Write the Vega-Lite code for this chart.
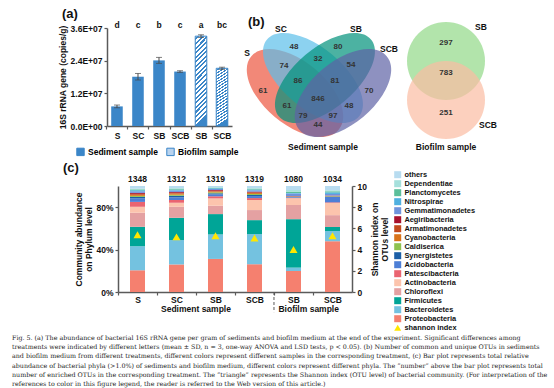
{
  "$schema": "https://vega.github.io/schema/vega-lite/v6.json",
  "background": "white",
  "padding": {"left": 12, "top": 8, "right": 0, "bottom": 0},
  "spacing": -3,
  "resolve": {"scale": {"color": "independent", "fill": "independent", "shape": "independent"}, "legend": {"color": "independent", "fill": "independent", "shape": "independent"}},
  "config": {
    "view": {"stroke": null},
    "font": "Liberation Sans",
    "axis": {"domainColor": "#5a5a5a", "domainWidth": 1.5, "tickColor": "#5a5a5a", "tickWidth": 1.2, "tickSize": 3, "labelFont": "Liberation Sans", "labelFontSize": 8.5, "labelFontWeight": "bold", "labelColor": "#111", "titleFont": "Liberation Sans", "titleFontSize": 8.5, "titleFontWeight": "bold", "titleColor": "#111", "grid": false, "labelPadding": 2},
    "title": {"font": "Liberation Sans", "fontSize": 13, "fontWeight": "bold", "color": "#111", "anchor": "start", "frame": "group"}
  },
  "vconcat": [
    {
      "spacing": 4,
      "resolve": {"scale": {"color": "independent", "fill": "independent", "shape": "independent"}, "legend": {"color": "independent", "fill": "independent", "shape": "independent"}},
      "vconcat": [
        {
          "spacing": 3,
          "resolve": {"scale": {"color": "independent", "fill": "independent", "shape": "independent"}, "legend": {"color": "independent", "fill": "independent", "shape": "independent"}},
          "hconcat": [
            {"width": 43, "height": 1, "data": {"values": []}, "mark": "point"},
            {
              "width": 125, "height": 98,
              "title": {"text": "(a)", "dx": -45, "offset": 0},
              "data": {"values": [
                {"id": "sed_S", "type": "Sediment sample", "mean": 7200000, "sd": 500000, "letter": "d"},
                {"id": "sed_SC", "type": "Sediment sample", "mean": 18100000, "sd": 1200000, "letter": "c"},
                {"id": "sed_SB", "type": "Sediment sample", "mean": 24100000, "sd": 1100000, "letter": "b"},
                {"id": "sed_SCB", "type": "Sediment sample", "mean": 20000000, "sd": 300000, "letter": "c"},
                {"id": "bio_SB", "type": "Biofilm sample", "mean": 33000000, "sd": 500000, "letter": "a"},
                {"id": "bio_SCB", "type": "Biofilm sample", "mean": 21200000, "sd": 400000, "letter": "bc"}
              ]},
              "encoding": {
                "x": {"field": "id", "type": "nominal", "sort": null,
                  "scale": {"domain": ["sed_S", "sed_SC", "sed_SB", "sed_SCB", "bio_SB", "bio_SCB"], "paddingInner": 0.45, "paddingOuter": 0.2},
                  "axis": {"title": null, "labelAngle": 0, "labelExpr": "split(datum.value, '_')[1]", "tickOffset": -10.5, "labelOffset": 10.5}},
                "y": {"field": "mean", "type": "quantitative", "scale": {"domain": [0, 36000000], "nice": false},
                  "axis": {"values": [0, 12000000, 24000000, 36000000], "labelExpr": "datum.value == 0 ? '0.0E+00' : format(datum.value / 1e7, '.1f') + 'E+07'", "title": "16S rRNA gene (copies/g)", "titlePadding": 3}}
              },
              "layer": [
                {"mark": {"type": "bar"},
                 "encoding": {"fill": {"field": "type", "type": "nominal",
                    "scale": {"domain": ["Sediment sample", "Biofilm sample"], "range": ["#3b86c8", "#b9d3ee"]},
                    "legend": {"orient": "none", "legendX": -31, "legendY": 119, "direction": "horizontal", "title": null, "symbolType": "square", "symbolSize": 55, "symbolStrokeColor": "#3b86c8", "symbolStrokeWidth": 1, "labelFontSize": 8.5, "labelFontWeight": "bold", "labelFont": "Liberation Sans", "columnPadding": 6, "labelOffset": 3, "labelLimit": 0}}}},
                {"transform": [{"filter": "datum.type == 'Biofilm sample'"}],
                 "mark": {"type": "bar", "stroke": "#3b86c8", "strokeWidth": 1,
                   "fill": {"gradient": "linear", "x1": 0, "y1": 0, "x2": 0.13, "y2": 1, "stops": [
                     {"offset": 0, "color": "#ffffff"}, {"offset": 0.0275, "color": "#ffffff"}, {"offset": 0.0275, "color": "#3b86c8"}, {"offset": 0.05, "color": "#3b86c8"},
                     {"offset": 0.05, "color": "#ffffff"}, {"offset": 0.0775, "color": "#ffffff"}, {"offset": 0.0775, "color": "#3b86c8"}, {"offset": 0.1, "color": "#3b86c8"},
                     {"offset": 0.1, "color": "#ffffff"}, {"offset": 0.1275, "color": "#ffffff"}, {"offset": 0.1275, "color": "#3b86c8"}, {"offset": 0.15, "color": "#3b86c8"},
                     {"offset": 0.15, "color": "#ffffff"}, {"offset": 0.1775, "color": "#ffffff"}, {"offset": 0.1775, "color": "#3b86c8"}, {"offset": 0.2, "color": "#3b86c8"},
                     {"offset": 0.2, "color": "#ffffff"}, {"offset": 0.2275, "color": "#ffffff"}, {"offset": 0.2275, "color": "#3b86c8"}, {"offset": 0.25, "color": "#3b86c8"},
                     {"offset": 0.25, "color": "#ffffff"}, {"offset": 0.2775, "color": "#ffffff"}, {"offset": 0.2775, "color": "#3b86c8"}, {"offset": 0.3, "color": "#3b86c8"},
                     {"offset": 0.3, "color": "#ffffff"}, {"offset": 0.3275, "color": "#ffffff"}, {"offset": 0.3275, "color": "#3b86c8"}, {"offset": 0.35, "color": "#3b86c8"},
                     {"offset": 0.35, "color": "#ffffff"}, {"offset": 0.3775, "color": "#ffffff"}, {"offset": 0.3775, "color": "#3b86c8"}, {"offset": 0.4, "color": "#3b86c8"},
                     {"offset": 0.4, "color": "#ffffff"}, {"offset": 0.4275, "color": "#ffffff"}, {"offset": 0.4275, "color": "#3b86c8"}, {"offset": 0.45, "color": "#3b86c8"},
                     {"offset": 0.45, "color": "#ffffff"}, {"offset": 0.4775, "color": "#ffffff"}, {"offset": 0.4775, "color": "#3b86c8"}, {"offset": 0.5, "color": "#3b86c8"},
                     {"offset": 0.5, "color": "#ffffff"}, {"offset": 0.5275, "color": "#ffffff"}, {"offset": 0.5275, "color": "#3b86c8"}, {"offset": 0.55, "color": "#3b86c8"},
                     {"offset": 0.55, "color": "#ffffff"}, {"offset": 0.5775, "color": "#ffffff"}, {"offset": 0.5775, "color": "#3b86c8"}, {"offset": 0.6, "color": "#3b86c8"},
                     {"offset": 0.6, "color": "#ffffff"}, {"offset": 0.6275, "color": "#ffffff"}, {"offset": 0.6275, "color": "#3b86c8"}, {"offset": 0.65, "color": "#3b86c8"},
                     {"offset": 0.65, "color": "#ffffff"}, {"offset": 0.6775, "color": "#ffffff"}, {"offset": 0.6775, "color": "#3b86c8"}, {"offset": 0.7, "color": "#3b86c8"},
                     {"offset": 0.7, "color": "#ffffff"}, {"offset": 0.7275, "color": "#ffffff"}, {"offset": 0.7275, "color": "#3b86c8"}, {"offset": 0.75, "color": "#3b86c8"},
                     {"offset": 0.75, "color": "#ffffff"}, {"offset": 0.7775, "color": "#ffffff"}, {"offset": 0.7775, "color": "#3b86c8"}, {"offset": 0.8, "color": "#3b86c8"},
                     {"offset": 0.8, "color": "#ffffff"}, {"offset": 0.8275, "color": "#ffffff"}, {"offset": 0.8275, "color": "#3b86c8"}, {"offset": 0.85, "color": "#3b86c8"},
                     {"offset": 0.85, "color": "#ffffff"}, {"offset": 0.8775, "color": "#ffffff"}, {"offset": 0.8775, "color": "#3b86c8"}, {"offset": 0.9, "color": "#3b86c8"},
                     {"offset": 0.9, "color": "#ffffff"}, {"offset": 0.9275, "color": "#ffffff"}, {"offset": 0.9275, "color": "#3b86c8"}, {"offset": 0.95, "color": "#3b86c8"},
                     {"offset": 0.95, "color": "#ffffff"}, {"offset": 0.9775, "color": "#ffffff"}, {"offset": 0.9775, "color": "#3b86c8"}, {"offset": 1, "color": "#3b86c8"}
                   ]}}},
                {"mark": {"type": "errorbar", "ticks": true, "size": 6, "thickness": 1, "color": "#4a4a4a"},
                 "encoding": {"yError": {"field": "sd"}}},
                {"mark": {"type": "text", "fontSize": 8.5, "fontWeight": "bold", "baseline": "middle", "color": "#111"},
                 "encoding": {"y": {"datum": 37000000, "type": "quantitative", "scale": {"domain": [0, 36000000], "nice": false}}, "text": {"field": "letter"}}}
              ]
            },
            {
              "width": 259, "height": 125,
              "title": {"text": "(b)", "dx": 6, "offset": -6.5},
              "encoding": {
                "x": {"field": "x", "type": "quantitative", "scale": {"domain": [0, 259], "nice": false, "zero": false}, "axis": null},
                "y": {"field": "y", "type": "quantitative", "scale": {"domain": [0, 125], "nice": false, "zero": false, "reverse": true}, "axis": null}
              },
              "layer": [
                {"data": {"values": [
                  {"set": "S", "x": 53, "y": 65}, {"set": "SC", "x": 71, "y": 50}, {"set": "SB", "x": 83, "y": 50}, {"set": "SCB", "x": 101, "y": 65},
                  {"set": "bio SB", "x": 204, "y": 33}, {"set": "bio SCB", "x": 204, "y": 72}]},
                 "mark": {"type": "point", "filled": true, "opacity": 0.7, "strokeWidth": 0},
                 "encoding": {
                   "shape": {"field": "set", "type": "nominal", "scale": {"domain": ["S", "SC", "SB", "SCB", "bio SB", "bio SCB"], "range": [
                     "M-0.7277,-0.6106A0.95,0.5167,40,1,0,0.7277,0.6106A0.95,0.5167,40,1,0,-0.7277,-0.6106Z",
                     "M-0.766,-0.6428A1,0.5,40,1,0,0.766,0.6428A1,0.5,40,1,0,-0.766,-0.6428Z",
                     "M-0.766,0.6428A1,0.5,-40,1,0,0.766,-0.6428A1,0.5,-40,1,0,-0.766,0.6428Z",
                     "M-0.7277,0.6106A0.95,0.5167,-40,1,0,0.7277,-0.6106A0.95,0.5167,-40,1,0,-0.7277,0.6106Z",
                     "M-0.65,0A0.65,0.65,0,1,0,0.65,0A0.65,0.65,0,1,0,-0.65,0Z",
                     "M-0.65,0A0.65,0.65,0,1,0,0.65,0A0.65,0.65,0,1,0,-0.65,0Z"]}, "legend": null},
                   "color": {"field": "set", "type": "nominal", "scale": {"domain": ["S", "SC", "SB", "SCB", "bio SB", "bio SCB"], "range": ["#ec553e", "#5bbfea", "#00917a", "#5e63a5", "#91d888", "#fbbca2"]}, "legend": null},
                   "size": {"value": 14400}
                 }},
                {"data": {"values": [
                  {"x": 52, "y": 19, "n": "48"}, {"x": 96, "y": 19, "n": "80"}, {"x": 42, "y": 38, "n": "74"}, {"x": 76, "y": 31, "n": "32"},
                  {"x": 109, "y": 37, "n": "54"}, {"x": 21, "y": 63, "n": "61"}, {"x": 56, "y": 53, "n": "86"}, {"x": 93, "y": 53, "n": "81"},
                  {"x": 127, "y": 63, "n": "70"}, {"x": 76, "y": 71, "n": "846"}, {"x": 45, "y": 78, "n": "61"}, {"x": 107, "y": 78, "n": "48"},
                  {"x": 61, "y": 88, "n": "79"}, {"x": 91, "y": 88, "n": "97"}, {"x": 76, "y": 97, "n": "44"},
                  {"x": 204, "y": 15, "n": "297"}, {"x": 204, "y": 45, "n": "783"}, {"x": 204, "y": 85, "n": "251"}]},
                 "mark": {"type": "text", "fontSize": 8, "fontWeight": "bold", "color": "#333", "baseline": "middle"},
                 "encoding": {"text": {"field": "n"}}},
                {"data": {"values": [
                  {"x": 5, "y": 25, "t": "S"}, {"x": 39, "y": 1, "t": "SC"}, {"x": 114, "y": 1, "t": "SB"}, {"x": 147, "y": 21, "t": "SCB"}, {"x": 81, "y": 119, "t": "Sediment sample"},
                  {"x": 239, "y": -1, "t": "SB"}, {"x": 246, "y": 97, "t": "SCB"}, {"x": 204, "y": 119, "t": "Biofilm sample"}]},
                 "mark": {"type": "text", "fontSize": 8.5, "fontWeight": "bold", "color": "#111", "baseline": "middle"},
                 "encoding": {"text": {"field": "t"}}}
              ]
            }
          ]
        },
        {
          "spacing": 0,
          "resolve": {"scale": {"color": "independent", "fill": "independent", "shape": "independent"}, "legend": {"color": "independent", "fill": "independent", "shape": "independent"}},
          "hconcat": [
            {"width": 51, "height": 1, "data": {"values": []}, "mark": "point"},
            {
              "width": 234, "height": 106,
              "title": {"text": "(c)", "dx": -55, "offset": -4},
              "data": {"values": [
                {"id": "sed_S", "n": "1348", "shannon": 5.4, "Proteobacteria": 20.5, "Bacteroidetes": 22.7, "Firmicutes": 18.3, "Chloroflexi": 13.3, "Actinobacteria": 5.6, "Patescibacteria": 4.6, "Acidobacteria": 3.3, "Synergistetes": 1.4, "Caldiserica": 1.0, "Cyanobacteria": 1.0, "Armatimonadetes": 0.9, "Aegiribacteria": 0.9, "Gemmatimonadetes": 1.5, "Nitrospirae": 1.0, "Planctomycetes": 0.8, "Dependentiae": 0.6, "others": 2.6},
                {"id": "sed_SC", "n": "1312", "shannon": 5.2, "Proteobacteria": 26.0, "Bacteroidetes": 23.0, "Firmicutes": 21.0, "Chloroflexi": 10.4, "Actinobacteria": 3.8, "Patescibacteria": 2.6, "Acidobacteria": 2.5, "Synergistetes": 1.5, "Caldiserica": 1.0, "Cyanobacteria": 1.0, "Armatimonadetes": 0.8, "Aegiribacteria": 0.8, "Gemmatimonadetes": 1.3, "Nitrospirae": 0.9, "Planctomycetes": 0.8, "Dependentiae": 0.6, "others": 2.0},
                {"id": "sed_SB", "n": "1319", "shannon": 5.3, "Proteobacteria": 31.2, "Bacteroidetes": 23.1, "Firmicutes": 19.2, "Chloroflexi": 7.9, "Actinobacteria": 6.9, "Patescibacteria": 2.0, "Acidobacteria": 1.8, "Synergistetes": 1.0, "Caldiserica": 0.9, "Cyanobacteria": 0.8, "Armatimonadetes": 0.7, "Aegiribacteria": 0.7, "Gemmatimonadetes": 1.0, "Nitrospirae": 0.7, "Planctomycetes": 0.5, "Dependentiae": 0.4, "others": 1.2},
                {"id": "sed_SCB", "n": "1319", "shannon": 5.1, "Proteobacteria": 26.2, "Bacteroidetes": 28.4, "Firmicutes": 13.2, "Chloroflexi": 9.5, "Actinobacteria": 9.5, "Patescibacteria": 1.8, "Acidobacteria": 1.9, "Synergistetes": 1.0, "Caldiserica": 0.9, "Cyanobacteria": 0.9, "Armatimonadetes": 0.7, "Aegiribacteria": 0.7, "Gemmatimonadetes": 1.2, "Nitrospirae": 0.8, "Planctomycetes": 0.7, "Dependentiae": 0.6, "others": 2.0},
                {"id": "bio_SB", "n": "1080", "shannon": 4.0, "Proteobacteria": 19.8, "Bacteroidetes": 3.2, "Firmicutes": 45.7, "Chloroflexi": 13.4, "Actinobacteria": 6.4, "Patescibacteria": 0.4, "Acidobacteria": 0.5, "Synergistetes": 0.3, "Caldiserica": 0.2, "Cyanobacteria": 0.2, "Armatimonadetes": 0.2, "Aegiribacteria": 0.2, "Gemmatimonadetes": 2.4, "Nitrospirae": 0.5, "Planctomycetes": 1.3, "Dependentiae": 1.5, "others": 3.8},
                {"id": "bio_SCB", "n": "1034", "shannon": 5.3, "Proteobacteria": 47.9, "Bacteroidetes": 9.6, "Firmicutes": 3.8, "Chloroflexi": 11.2, "Actinobacteria": 11.5, "Patescibacteria": 0.6, "Acidobacteria": 5.0, "Synergistetes": 0.4, "Caldiserica": 0.3, "Cyanobacteria": 0.3, "Armatimonadetes": 0.2, "Aegiribacteria": 0.2, "Gemmatimonadetes": 1.5, "Nitrospirae": 1.5, "Planctomycetes": 1.0, "Dependentiae": 1.0, "others": 4.0}
              ]},
              "layer": [
                {"layer": [
                  {"transform": [
                     {"fold": ["Proteobacteria", "Bacteroidetes", "Firmicutes", "Chloroflexi", "Actinobacteria", "Patescibacteria", "Acidobacteria", "Synergistetes", "Caldiserica", "Cyanobacteria", "Armatimonadetes", "Aegiribacteria", "Gemmatimonadetes", "Nitrospirae", "Planctomycetes", "Dependentiae", "others"], "as": ["phylum", "pct"]},
                     {"calculate": "indexof(['Proteobacteria', 'Bacteroidetes', 'Firmicutes', 'Chloroflexi', 'Actinobacteria', 'Patescibacteria', 'Acidobacteria', 'Synergistetes', 'Caldiserica', 'Cyanobacteria', 'Armatimonadetes', 'Aegiribacteria', 'Gemmatimonadetes', 'Nitrospirae', 'Planctomycetes', 'Dependentiae', 'others'], datum.phylum)", "as": "k"}],
                   "mark": {"type": "bar"},
                   "encoding": {
                     "x": {"field": "id", "type": "nominal", "sort": null,
                       "scale": {"domain": ["sed_S", "sed_SC", "sed_SB", "sed_SCB", "bio_SB", "bio_SCB"], "paddingInner": 0.615, "paddingOuter": 0.3075},
                       "axis": {"title": null, "labelAngle": 0, "labelExpr": "split(datum.value, '_')[1]", "tickOffset": -19.5, "labelOffset": 19.5, "labelPadding": 0}},
                     "y": {"field": "pct", "type": "quantitative", "stack": "zero", "scale": {"domain": [0, 100], "nice": false},
                       "axis": {"values": [0, 20, 40, 60, 80, 100], "labelExpr": "datum.value + '%'", "title": ["Community abundance", "on Phylum level"], "titlePadding": 2, "titleLineHeight": 10}},
                     "color": {"field": "phylum", "type": "nominal",
                       "scale": {"domain": ["others", "Dependentiae", "Planctomycetes", "Nitrospirae", "Gemmatimonadetes", "Aegiribacteria", "Armatimonadetes", "Cyanobacteria", "Caldiserica", "Synergistetes", "Acidobacteria", "Patescibacteria", "Actinobacteria", "Chloroflexi", "Firmicutes", "Bacteroidetes", "Proteobacteria", "shannon index"],
                         "range": ["#b8dcf0", "#a6e0dc", "#5bbf9a", "#4fb0e0", "#6f93dc", "#a8102c", "#c24a1e", "#d9731a", "#8fc24f", "#1b5fa6", "#4d7fd6", "#ea6470", "#fcc4ad", "#e4a1a2", "#00a597", "#74c2e0", "#f5806f", "#ffe600"]},
                       "legend": {"orient": "none", "legendX": 276, "legendY": -15, "title": null, "symbolType": "square", "symbolSize": 49, "symbolStrokeWidth": 0, "labelFont": "Liberation Sans", "labelFontSize": 7.4, "labelFontWeight": "bold", "labelColor": "#111", "labelOffset": 3, "rowPadding": 0, "labelLimit": 0,
                         "encode": {"symbols": {"update": {"shape": {"signal": "datum.value === 'shannon index' ? 'triangle-up' : 'square'"}}}}}},
                     "order": {"field": "k", "type": "quantitative"}
                   }},
                  {"mark": {"type": "text", "fontSize": 8.5, "fontWeight": "bold", "baseline": "middle", "color": "#111"},
                   "encoding": {
                     "x": {"field": "id", "type": "nominal", "sort": null, "scale": {"domain": ["sed_S", "sed_SC", "sed_SB", "sed_SCB", "bio_SB", "bio_SCB"], "paddingInner": 0.615, "paddingOuter": 0.3075}},
                     "y": {"datum": 106.6, "type": "quantitative", "scale": {"domain": [0, 100], "nice": false}},
                     "text": {"field": "n", "type": "nominal"}}},
                  {"data": {"values": [{"id": "sed_SB", "t": "Sediment sample"}]},
                   "mark": {"type": "text", "fontSize": 8.5, "fontWeight": "bold", "baseline": "middle", "align": "center", "color": "#111"},
                   "encoding": {
                     "x": {"field": "id", "type": "nominal", "sort": null, "bandPosition": -0.8, "scale": {"domain": ["sed_S", "sed_SC", "sed_SB", "sed_SCB", "bio_SB", "bio_SCB"], "paddingInner": 0.615, "paddingOuter": 0.3075}},
                     "y": {"datum": -16, "type": "quantitative", "scale": {"domain": [0, 100], "nice": false}},
                     "text": {"field": "t"}}},
                  {"data": {"values": [{"id": "bio_SB", "t": "Biofilm sample"}]},
                   "mark": {"type": "text", "fontSize": 8.5, "fontWeight": "bold", "baseline": "middle", "align": "left", "color": "#111"},
                   "encoding": {
                     "x": {"field": "id", "type": "nominal", "sort": null, "bandPosition": -0.5, "scale": {"domain": ["sed_S", "sed_SC", "sed_SB", "sed_SCB", "bio_SB", "bio_SCB"], "paddingInner": 0.615, "paddingOuter": 0.3075}},
                     "y": {"datum": -16, "type": "quantitative", "scale": {"domain": [0, 100], "nice": false}},
                     "text": {"field": "t"}}},
                  {"data": {"values": [{"id": "bio_SB"}]},
                   "mark": {"type": "rule", "strokeDash": [3, 2], "color": "#5a5a5a", "strokeWidth": 1},
                   "encoding": {
                     "x": {"field": "id", "type": "nominal", "sort": null, "bandPosition": -0.8, "scale": {"domain": ["sed_S", "sed_SC", "sed_SB", "sed_SCB", "bio_SB", "bio_SCB"], "paddingInner": 0.615, "paddingOuter": 0.3075}},
                     "y": {"datum": 0, "type": "quantitative", "scale": {"domain": [0, 100], "nice": false}},
                     "y2": {"datum": -19}}}
                ]},
                {"mark": {"type": "point", "shape": "triangle-up", "filled": true, "color": "#ffe600", "size": 65, "opacity": 1},
                 "encoding": {
                   "x": {"field": "id", "type": "nominal", "sort": null, "scale": {"domain": ["sed_S", "sed_SC", "sed_SB", "sed_SCB", "bio_SB", "bio_SCB"], "paddingInner": 0.615, "paddingOuter": 0.3075}},
                   "y": {"field": "shannon", "type": "quantitative", "scale": {"domain": [0, 10], "nice": false},
                     "axis": {"orient": "right", "values": [0, 2, 4, 6, 8, 10], "title": ["Shannon index on", "OTUs level"], "titleAngle": 270, "titlePadding": 3, "titleLineHeight": 10}}}}
              ],
              "resolve": {"scale": {"y": "independent"}}
            }
          ]
        }
      ]
    },
    {
      "width": 537, "height": 58,
      "data": {"values": [
        {"line": 1, "txt": "Fig. 5. (a) The abundance of bacterial 16S rRNA gene per gram of sediments and biofilm medium at the end of the experiment. Significant differences among"},
        {"line": 2, "txt": "treatments were indicated by different letters (mean ± SD, n = 3, one-way ANOVA and LSD tests, p < 0.05). (b) Number of common and unique OTUs in sediments"},
        {"line": 3, "txt": "and biofilm medium from different treatments, different colors represent different samples in the corresponding treatment, (c) Bar plot represents total relative"},
        {"line": 4, "txt": "abundance of bacterial phyla (>1.0%) of sediments and biofilm medium, different colors represent different phyla. The “number” above the bar plot represents total"},
        {"line": 5, "txt": "number of enriched OTUs in the corresponding treatment. The “triangle” represents the Shannon index (OTU level) of bacterial community. (For interpretation of the"},
        {"line": 6, "txt": "references to color in this figure legend, the reader is referred to the Web version of this article.)"}
      ]},
      "mark": {"type": "text", "align": "left", "baseline": "middle", "font": "DejaVu Serif", "fontSize": 6.35, "color": "#1a1a1a"},
      "encoding": {
        "x": {"datum": 0, "type": "quantitative", "scale": {"domain": [0, 1]}, "axis": null},
        "y": {"field": "line", "type": "ordinal", "scale": {"type": "point", "padding": 0.69}, "axis": null},
        "text": {"field": "txt"}
      }
    }
  ]
}
